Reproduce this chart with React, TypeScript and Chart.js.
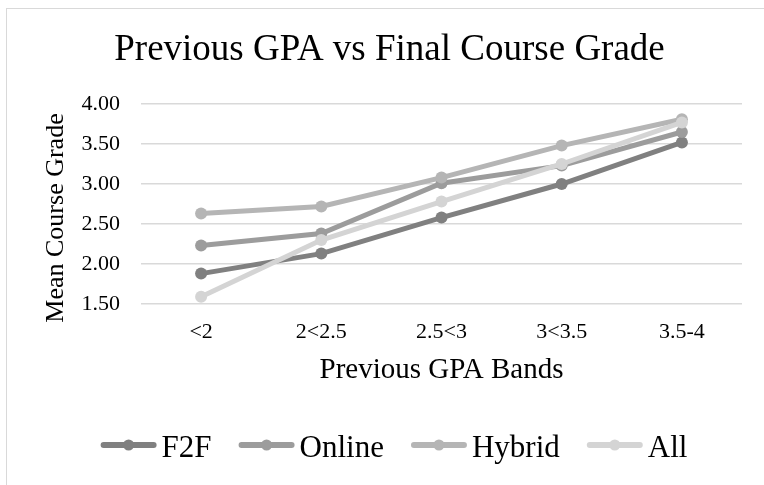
import React, { useEffect, useRef } from "react";
import { Chart, registerables } from "chart.js";

Chart.register(...registerables);

const categories = ["<2", "2<2.5", "2.5<3", "3<3.5", "3.5-4"];
const seriesNames = ["F2F", "Online", "Hybrid", "All"];
const f2f = [1.88, 2.13, 2.58, 3.0, 3.52];
const online = [2.23, 2.38, 3.01, 3.23, 3.65];
const hybrid = [2.63, 2.72, 3.08, 3.48, 3.81];
const all = [1.59, 2.3, 2.78, 3.25, 3.77];
const seriesColors = ["#808080", "#9c9c9c", "#b5b5b5", "#d4d4d4"];
const yMin = 1.5;
const yMax = 4.0;
const yStep = 0.5;

const FONT = "'Liberation Serif', 'Times New Roman', serif";

const frameAndExtras = {
  id: "frameAndExtras",
  beforeDraw(chart: any) {
    const ctx = chart.ctx;
    ctx.save();
    ctx.strokeStyle = "#d9d9d9";
    ctx.lineWidth = 1;
    ctx.strokeRect(6.5, 8.5, 2000, 2000);
    ctx.restore();
  },
  afterDraw(chart: any) {
    const ctx = chart.ctx;
    const area = chart.chartArea;
    // y axis title
    ctx.save();
    ctx.fillStyle = "#000";
    ctx.font = `26px ${FONT}`;
    ctx.textAlign = "center";
    ctx.textBaseline = "alphabetic";
    ctx.translate(63, (area.top + area.bottom) / 2 + 14);
    ctx.rotate(-Math.PI / 2);
    ctx.fillText("Mean Course Grade", 0, 0);
    ctx.restore();

    // legend
    ctx.save();
    ctx.font = `31px ${FONT}`;
    const lineLen = 56;
    const gap = 5;
    const spacing = 27;
    const widths = chart.data.datasets.map((d: any) => ctx.measureText(d.label).width);
    let total = 0;
    widths.forEach((w: number, i: number) => {
      total += lineLen + gap + w + (i < widths.length - 1 ? spacing : 0);
    });
    let x = 394 - total / 2;
    const lineY = 445;
    const baseY = 456.5;
    chart.data.datasets.forEach((d: any, i: number) => {
      ctx.strokeStyle = d.borderColor;
      ctx.lineWidth = 6;
      ctx.lineCap = "round";
      ctx.beginPath();
      ctx.moveTo(x + 3, lineY);
      ctx.lineTo(x + lineLen - 3, lineY);
      ctx.stroke();
      ctx.fillStyle = d.borderColor;
      ctx.beginPath();
      ctx.arc(x + lineLen / 2, lineY, 5.5, 0, Math.PI * 2);
      ctx.fill();
      ctx.fillStyle = "#000";
      ctx.textAlign = "left";
      ctx.textBaseline = "alphabetic";
      ctx.fillText(d.label, x + lineLen + gap, baseY);
      x += lineLen + gap + widths[i] + spacing;
    });
    ctx.restore();
  },
};

export default function App() {
  const ref = useRef<HTMLCanvasElement | null>(null);

  useEffect(() => {
    if (!ref.current) return;
    const values = [f2f, online, hybrid, all];
    const chart = new Chart(ref.current, {
      type: "line",
      data: {
        labels: categories,
        datasets: seriesNames.map((name, i) => ({
          label: name,
          data: values[i],
          borderColor: seriesColors[i],
          backgroundColor: seriesColors[i],
          pointBackgroundColor: seriesColors[i],
          pointBorderColor: seriesColors[i],
          borderWidth: 5,
          pointRadius: 6,
          pointBorderWidth: 0,
          tension: 0,
          fill: false,
          order: seriesNames.length - i,
        })),
      },
      options: {
        responsive: false,
        animation: false,
        devicePixelRatio: 1,
        layout: { padding: { left: 37, right: 22, top: 0, bottom: 97.4 } },
        plugins: {
          legend: { display: false },
          tooltip: { enabled: false },
          title: {
            display: true,
            text: "Previous GPA vs Final Course Grade",
            color: "#000",
            font: { family: FONT, size: 37, weight: "normal" },
            padding: { top: 28.3, bottom: 31.3 },
          },
        },
        scales: {
          x: {
            type: "category",
            offset: true,
            grid: { display: false, drawTicks: false },
            border: { display: false },
            ticks: {
              color: "#000",
              font: { family: FONT, size: 22 },
              padding: 15.4,
              maxRotation: 0,
            },
            title: {
              display: true,
              text: "Previous GPA Bands",
              color: "#000",
              font: { family: FONT, size: 29 },
              padding: { top: 0, bottom: 0 },
            },
            afterFit(scale: any) {
              scale.height = 83.6;
            },
          },
          y: {
            min: yMin,
            max: yMax,
            grid: { color: "#d9d9d9", lineWidth: 1.5, drawTicks: false },
            border: { display: false },
            ticks: {
              stepSize: yStep,
              color: "#000",
              font: { family: FONT, size: 22 },
              padding: 21,
              callback: (v: any) => Number(v).toFixed(2),
            },
            afterFit(scale: any) {
              scale.width = 104;
            },
          },
        },
      },
      plugins: [frameAndExtras],
    });
    return () => chart.destroy();
  }, []);

  return (
    <div style={{ position: "fixed", left: 0, top: 0, width: 764, height: 485, overflow: "hidden", background: "#fff" }}>
      <canvas ref={ref} width={764} height={485} style={{ width: 764, height: 485, display: "block" }} />
    </div>
  );
}
